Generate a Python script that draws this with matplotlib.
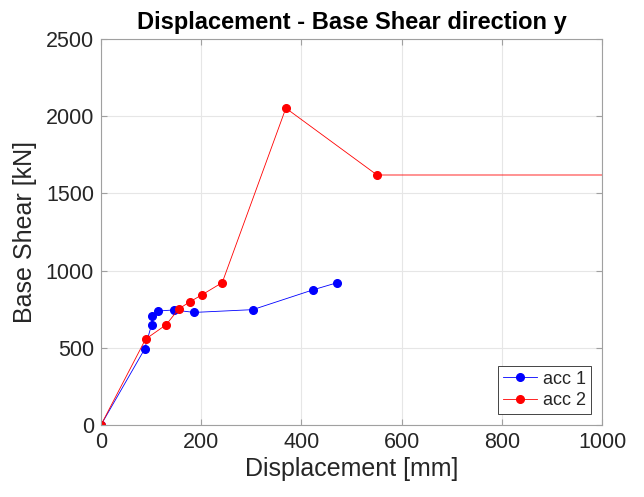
import matplotlib
matplotlib.use("Agg")
import matplotlib.pyplot as plt

plt.rcParams['font.family'] = ['Liberation Sans', 'DejaVu Sans']

acc1_x = [0, 87, 101, 102, 114, 145, 186, 303, 424, 472]
acc1_y = [0, 491, 649, 709, 738, 745, 729, 747, 876, 922]
acc2_x = [0, 89, 130, 155, 177, 201, 242, 369, 551, 1200]
acc2_y = [0, 556, 649, 751, 797, 842, 922, 2052, 1619, 1619]
labels = ['acc 1', 'acc 2']
xticks = [0, 200, 400, 600, 800, 1000]
yticks = [0, 500, 1000, 1500, 2000, 2500]

fig = plt.figure(figsize=(6.44, 4.97), dpi=100)
ax = fig.add_axes([0.1568, 0.1449, 0.778, 0.7767])

ax.plot(acc1_x, acc1_y, '-o', color='#0000ff', lw=0.6, ms=5.5, label=labels[0])
ax.plot(acc2_x, acc2_y, '-o', color='#ff0000', lw=0.6, ms=5.5, label=labels[1])

ax.set_xlim(0, 1000)
ax.set_ylim(0, 2500)
ax.set_xticks(xticks)
ax.set_yticks(yticks)
ax.grid(True, color='#e6e6e6', lw=0.8)
ax.set_axisbelow(True)
ax.tick_params(direction='in', top=True, right=True, labelsize=15.5, colors='#262626',
               length=4, pad=5)
ax.tick_params(axis='both', color='#a0a0a0')
for s in ax.spines.values():
    s.set_color('#a0a0a0')
    s.set_linewidth(0.8)
ax.set_xlabel('Displacement [mm]', fontsize=18, color='#262626', labelpad=3)
ax.set_ylabel('Base Shear [kN]', fontsize=18, color='#262626', labelpad=6)
ax.set_title('Displacement - Base Shear direction y', fontsize=17, fontweight='bold', pad=7)
leg = ax.legend(loc='lower right', fontsize=13, fancybox=False, framealpha=1,
                edgecolor='#262626', handlelength=1.9, handletextpad=0.35,
                borderpad=0.25, labelspacing=0.25, borderaxespad=0,
                bbox_to_anchor=(0.978, 0.029))
leg.get_frame().set_linewidth(0.6)
for t in leg.get_texts():
    t.set_color('#262626')

fig.savefig('out.png', dpi=100)
